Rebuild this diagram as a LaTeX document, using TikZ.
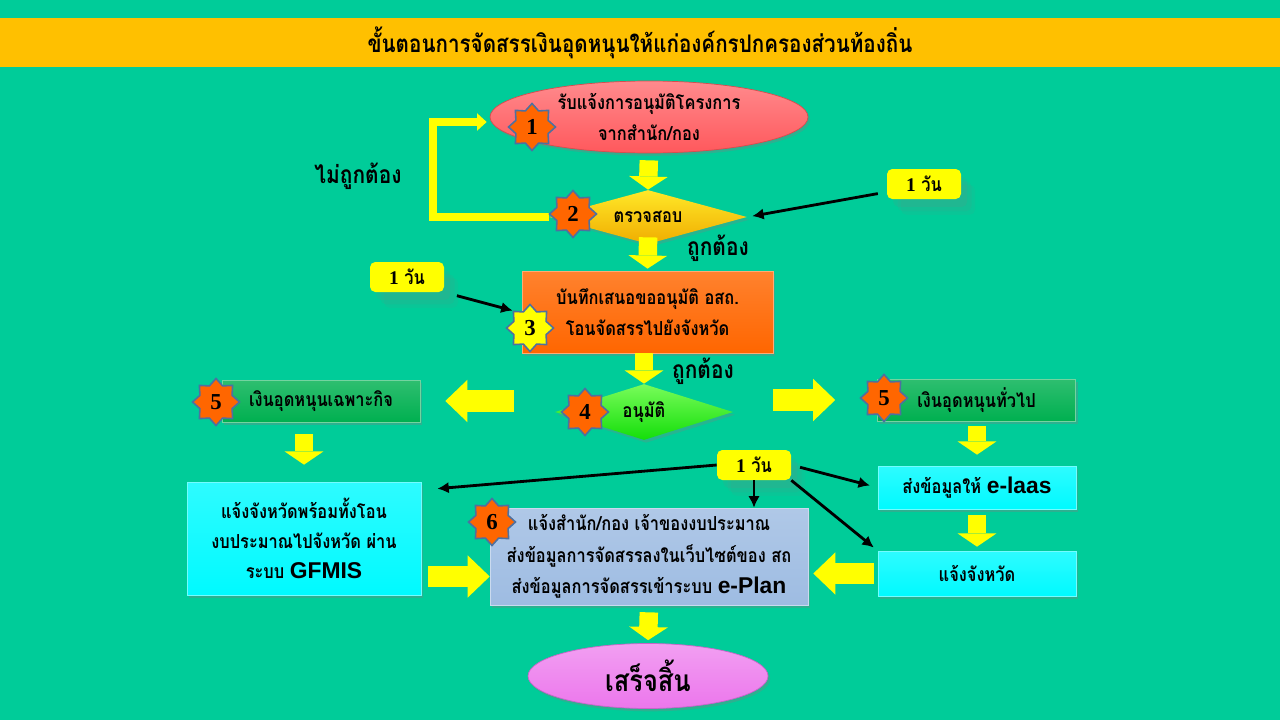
\documentclass[tikz,border=0pt]{standalone}
\usepackage{fontspec}
\setmainfont{Liberation Serif}
\newfontfamily\thaifont[Script=Thai, FakeStretch=0.85]{Loma}
\newfontfamily\sansbold{Liberation Sans}
\usetikzlibrary{arrows.meta, shapes.geometric, shadows, calc}

\definecolor{bg_teal}{RGB}{0,204,153}
\definecolor{title_gold}{RGB}{255,192,0}
\definecolor{oval_red}{RGB}{255,88,92}
\definecolor{check_top}{RGB}{255,232,40}
\definecolor{check_bot}{RGB}{240,172,0}
\definecolor{step_orange}{RGB}{255,102,0}
\definecolor{ok_top}{RGB}{120,252,90}
\definecolor{ok_bot}{RGB}{20,222,10}
\definecolor{fund_green}{RGB}{0,176,80}
\definecolor{info_cyan}{RGB}{0,250,255}
\definecolor{notice_blue}{RGB}{158,188,226}
\definecolor{done_pink}{RGB}{236,118,236}
\definecolor{day_yellow}{RGB}{255,255,0}
\definecolor{arrow_yellow}{RGB}{255,255,0}
\definecolor{badge_orange}{RGB}{255,102,0}
\definecolor{badge_line}{RGB}{78,112,160}

\tikzset{
    flow_title/.style={
        rectangle,
        fill=title_gold,
        minimum width=25.6cm,
        minimum height=0.98cm,
        inner sep=0pt,
        font=\thaifont\bfseries\fontsize{13.8}{16}\selectfont
    },
    flow_oval/.style={
        ellipse,
        top color=#1!70!white,
        bottom color=#1,
        draw=#1!85!black,
        thin,
        inner sep=0pt,
        align=center,
        drop shadow={shadow xshift=1.2pt, shadow yshift=-1.6pt, opacity=0.35}
    },
    flow_check/.style={
        diamond,
        inner sep=0pt,
        align=center,
        drop shadow={shadow xshift=1.2pt, shadow yshift=-1.6pt, opacity=0.3}
    },
    flow_box/.style={
        rectangle,
        top color=#1!82!white,
        bottom color=#1,
        draw=#1!55!white,
        thin,
        inner sep=2pt,
        align=center,
        drop shadow={shadow xshift=1.2pt, shadow yshift=-1.6pt, opacity=0.35}
    },
    flow_day/.style={
        rectangle,
        rounded corners=3pt,
        fill=day_yellow,
        minimum width=1.48cm,
        minimum height=0.6cm,
        inner sep=0pt,
        font=\thaifont\bfseries\fontsize{11}{12}\selectfont,
        drop shadow={shadow xshift=8pt, shadow yshift=-9pt, opacity=0.07},
        drop shadow={shadow xshift=6pt, shadow yshift=-7pt, opacity=0.09},
        drop shadow={shadow xshift=3.5pt, shadow yshift=-4.5pt, opacity=0.12}
    },
    flow_label/.style={
        inner sep=0pt,
        font=\thaifont\bfseries\fontsize{14}{15}\selectfont
    },
    flow_badge/.style={
        star,
        star points=8,
        star point ratio=1.35,
        minimum size=0.94cm,
        inner sep=0pt,
        fill=#1,
        draw=badge_line,
        line width=0.9pt,
        font=\rmfamily\bfseries\fontsize{13}{13}\selectfont
    },
    flow_fat_down/.style={
        draw=arrow_yellow,
        line width=10.5pt,
        -{Triangle[width=22pt, length=7.5pt, line width=0pt]}
    },
    flow_fat_side/.style={
        draw=arrow_yellow,
        line width=12pt,
        -{Triangle[width=24pt, length=12.5pt, line width=0pt]}
    },
    flow_loop/.style={
        draw=arrow_yellow,
        line width=4.5pt,
        -{Triangle[width=10pt, length=5.5pt, line width=0pt]}
    },
    flow_day_arrow/.style={
        draw=black,
        line width=1.6pt,
        -{Latex[length=6.5pt, width=6.5pt]}
    }
}
\newcommand{\latinword}[1]{{\sansbold\fontsize{13}{13}\selectfont #1}}

\begin{document}
\begin{tikzpicture}[x=0.02cm, y=-0.02cm,
  every node/.style={font=\thaifont\bfseries\fontsize{11}{18}\selectfont}]
\useasboundingbox (0,0) rectangle (1280,720);
\fill[bg_teal] (0,0) rectangle (1280,720);

% Title
\node[flow_title] (title) at (640,42.5) {ขั้นตอนการจัดสรรเงินอุดหนุนให้แก่องค์กรปกครองส่วนท้องถิ่น};

% Approval chain
\node[flow_oval=oval_red, minimum width=6.36cm, minimum height=1.44cm] (notice) at (649,117)
  {รับแจ้งการอนุมัติโครงการ\\จากสำนัก/กอง};
\node[flow_check, shape aspect=3.67, top color=check_top, bottom color=check_bot,
  minimum width=3.96cm, minimum height=1.08cm] (check) at (648,217) {ตรวจสอบ};
\node[flow_box=step_orange, minimum width=5.02cm, minimum height=1.64cm] (memo) at (647.5,312)
  {บันทึกเสนอขออนุมัติ อสถ.\\โอนจัดสรรไปยังจังหวัด};
\node[flow_check, shape aspect=3.2, top color=ok_top, bottom color=ok_bot,
  minimum width=3.56cm, minimum height=1.12cm] (approve) at (644,412) {อนุมัติ};

% Two kinds of subsidy
\node[flow_box=fund_green, minimum width=3.96cm, minimum height=0.84cm] (specific) at (321,401)
  {เงินอุดหนุนเฉพาะกิจ};
\node[flow_box=fund_green, minimum width=3.96cm, minimum height=0.84cm] (general) at (976.5,400)
  {เงินอุดหนุนทั่วไป};
\node[flow_box=info_cyan, minimum width=3.96cm, minimum height=0.86cm] (elaas) at (977,487.5)
  {ส่งข้อมูลให้ \latinword{e-laas}};
\node[flow_box=info_cyan, minimum width=3.96cm, minimum height=0.9cm] (province) at (977,573.5)
  {แจ้งจังหวัด};
\node[flow_box=info_cyan, minimum width=4.68cm, minimum height=2.26cm,
  font=\thaifont\bfseries\fontsize{11}{17}\selectfont] (gfmis) at (304,538.5)
  {แจ้งจังหวัดพร้อมทั้งโอน\\งบประมาณไปจังหวัด ผ่าน\\ระบบ \latinword{GFMIS}};
\node[flow_box=notice_blue, minimum width=6.36cm, minimum height=1.94cm] (owner) at (649,556.5)
  {แจ้งสำนัก/กอง เจ้าของงบประมาณ\\ส่งข้อมูลการจัดสรรลงในเว็บไซต์ของ สถ\\ส่งข้อมูลการจัดสรรเข้าระบบ \latinword{e-Plan}};
\node[flow_oval=done_pink, minimum width=4.8cm, minimum height=1.3cm,
  font=\thaifont\bfseries\fontsize{17}{18}\selectfont] (done) at (648,676) {เสร็จสิ้น};

% Side labels
\node[flow_label] (lbl_wrong) at (358,176) {ไม่ถูกต้อง};
\node[flow_label] (lbl_ok_a) at (718,248) {ถูกต้อง};
\node[flow_label] (lbl_ok_b) at (703,371) {ถูกต้อง};

% Time boxes
\node[flow_day] (day_a) at (924,184) {{\rmfamily 1} วัน};
\node[flow_day] (day_b) at (407,277) {{\rmfamily 1} วัน};
\node[flow_day] (day_c) at (754,465) {{\rmfamily 1} วัน};

% Block arrows
\draw[flow_fat_down, shorten <=0.14cm] (notice.south) -- (check.north);
\draw[flow_fat_down, shorten <=-0.14cm, shorten >=0.04cm] (check.south) -- (memo.north);
\draw[flow_fat_down] (approve.north |- memo.south) -- (approve.north);
\draw[flow_fat_side, shorten <=0.82cm, shorten >=0.5cm] (approve.west |- specific.east) -- (specific.east);
\draw[flow_fat_side, shorten <=0.8cm, shorten >=0.84cm] (approve.east |- general.west) -- (general.west);
\draw[flow_fat_down, shorten <=0.24cm, shorten >=0.34cm] (gfmis.north |- specific.south) -- (gfmis.north);
\draw[flow_fat_down, shorten <=0.1cm, shorten >=0.22cm] (elaas.north |- general.south) -- (elaas.north);
\draw[flow_fat_down, shorten <=0.12cm, shorten >=0.08cm] (elaas.south) -- (province.north);
\draw[flow_fat_side, shorten <=0.08cm, shorten >=0.1cm] (province.west) -- (province.west -| owner.east);
\draw[flow_fat_side, shorten <=0.14cm] ([yshift=-0.76cm]gfmis.east) -- ([yshift=-0.76cm]gfmis.east -| owner.west);
\draw[flow_fat_down, shorten <=0.14cm, shorten >=0.06cm] (owner.south) -- (done.north);

% Back to the start when wrong
\coordinate (loop_x) at (433,0);
\coordinate (notice_in) at ([yshift=-0.1cm]notice.west);
\draw[flow_loop, shorten >=0.06cm] (check.west) -- (check.west -| loop_x)
  -- (loop_x |- notice_in) -- (notice_in);

% Time arrows
\draw[flow_day_arrow, shorten <=0.18cm, shorten >=0.1cm] ([yshift=-0.16cm]day_a.west) -- (check.east);
\draw[flow_day_arrow] (day_c.west) -- ([shift={(16,7)}]gfmis.north east);
\draw[flow_day_arrow] (day_c.south) -- (day_c.south |- owner.north);
\draw[flow_day_arrow, shorten <=0.18cm, shorten >=0.16cm] (day_c.east) -- (elaas.west);
\draw[flow_day_arrow, shorten >=0.1cm] (day_c.south east) -- (province.north west);

% Step badges
\node[flow_badge=badge_orange] (b1) at (532,127) {1};
\node[flow_badge=badge_orange] (b2) at (573,214) {2};
\node[flow_badge=day_yellow] (b3) at (530,328) {3};
\node[flow_badge=badge_orange] (b4) at (585,412) {4};
\node[flow_badge=badge_orange] (b5l) at (216,402) {5};
\node[flow_badge=badge_orange] (b5r) at (884,398) {5};
\node[flow_badge=badge_orange] (b6) at (492,522) {6};
\draw[flow_day_arrow, shorten <=0.26cm] (day_b.south east) -- (b3.135);

\end{tikzpicture}
\end{document}
